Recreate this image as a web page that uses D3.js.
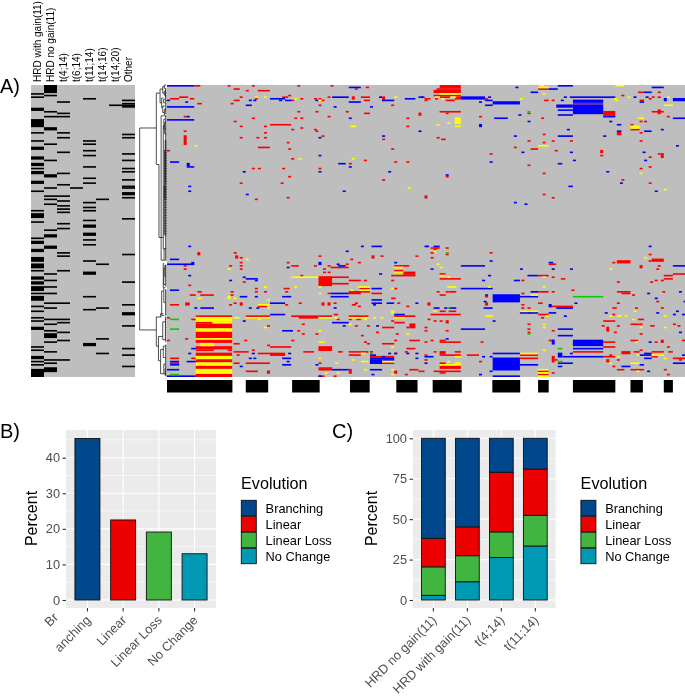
<!DOCTYPE html>
<html><head><meta charset="utf-8">
<script src="https://cdn.jsdelivr.net/npm/d3@7"></script>
<style>html,body{margin:0;padding:0;background:#fff}svg{display:block}text{font-family:"Liberation Sans",Arial,sans-serif}</style>
</head><body><svg id="c" width="685" height="696"></svg>
<script>
// ---------- Panel A: annotation columns (row, span) ----------
const annotNames=["HRD with gain(11)","HRD no gain(11)","t(4;14)","t(6;14)","t(11;14)","t(14;16)","t(14;20)","Other"];
const annotHRDgain=[[5],[7],[14,2],[21,5],[29],[34],[38,2],[44,2],[48,2],[51],[53,2],[59,2],[65],[77],[79,3],[84],[94],[96,2],[101,2],[106,3],[110,3],[114],[118,2],[121,2],[124,3],[128],[130,3],[136],[139],[143],[145],[149,2],[161],[163],[167,2],[170],[172],[175,5]];
const annotHRDno=[[0,5],[6],[16],[19],[26,2],[36],[46],[55,2],[63],[68],[70],[73],[89],[92,2],[99,2],[116],[120],[124],[128],[134],[137],[144],[147],[151],[153,3],[158],[164],[169],[171],[174,3]];
const annotT414=[[10],[17],[19],[29],[32],[41],[54],[61],[68],[71],[74],[76],[78],[85],[88],[103],[105],[114],[134],[144],[146],[152],[157],[169]];
const annotT614=[[63]];
const annotT1114=[[8],[34],[36],[40],[43],[50],[57],[60],[72],[75],[77],[83],[86,2],[91,2],[95],[98],[108],[115,2],[130],[138],[159,2]];
const annotT1416=[[70],[110],[137],[156],[165]];
const annotT1420=[[12]];
const annotOther=[[9],[11],[12],[13],[30],[32],[42],[46],[51],[53],[58],[62],[63],[66,2],[69],[82],[104],[121],[135],[140,2],[148],[162],[166],[173]];
const annotCols=[annotHRDgain,annotHRDno,annotT414,annotT614,annotT1114,annotT1416,annotT1420,annotOther];

// ---------- Panel A: main heatmap cells (row, firstCol, endCol, rowSpan) ----------
const redCells=[[0,9,11],[0,20,21],[0,28,29],[0,43,44],[0,54,55],[1,65.6,66.7],[2,22,24],[2,62,63],[3,26,27],[3,30,34],[6,40,41],[7,4,7],[7,24,25],[7,38,39],[7,39,40],[7,53,54],[7,61,62,2],[7,64,67],[7,71,72,3],[8,1,4],[8,7.5,9],[8,29,30],[8,44,45],[8,48.5,49.5],[8,50,51],[8,85,86],[9,22,24],[9,41,42],[9,51,52],[9,65,67],[11,10,11.5],[11,21,22],[12,50,51],[12,74,75],[16,43,44],[16,49,50],[16,59,60],[17,65,67],[17,83,84],[19,5.5,6.5],[19,53,54],[20,28,29],[20,42,43],[20,44,45],[20,79,80],[22,22,23],[24,34,41],[25,24,25],[25,32,33],[25,79,80],[26,44,45],[27,41,42],[27,48.5,49.5],[28,5.5,6.5],[28,49,50],[29,32,33],[31,51,52],[32,24,25],[32,29.5,30.5],[32,32,33],[33,71,72],[31,5.5,6.5,6],[35,39.5,40.5],[38,30,34],[39,40,41],[39,74,75],[40,0,1],[45,41,42],[46,65,66],[47,75,76],[47,79,80],[48,60,61],[51,28,29],[51,30,31],[51,38,39],[51,50,51],[56,40,41],[58,71,72],[60,24,25],[60,37.5,38.5],[69,85,86],[69,39.5,40.5],[70,29,30],
[0,90,97,2],[2,89,97],[3,88,97,2],[2,122.5,126],[4,155.5,157.5],[4,162,163],[6,88,97],[6,150,151],[7,90,93.5],[7,95,97],[7,160,161],[7,162,163],[8,88.5,89.5],[8,95,97],[8,86,87],[8,105,106],[8,159,160],[9,92,95],[9,85,86],[9,124.5,126],[9,127,128],[9,156,157.5],[11,134,144],[16,144,148,3],[16,90,97],[16,160,164],[15,162,163,3],[17,92,93],[17,119,120],[18,83,84],[19,103,104],[19,165,166],[20,123.5,124.5],[22,157.5,158.5],[22,156,157],[24,153,154],[27,153,156],[29,148.5,150,2],[29,156,157],[30,124,125],[32,89,90],[33,90.5,92],[34,119,120],[34,127,128],[34,133,134],[34,156,157],[35,124,125],[38,114.5,115.5],[39,120,122.5],[40,128,129],[40,143,144,2],[42,106.5,107.5],[42,162,163],[42,163,164,3],[43,143,144],[44,159,160],[49,119,120],[50,159,160],[51,156,157],[54,124,125],[56,92,93],[58,150,151],[60,159,160],[67,124,125],[68,85,86],[69,127,128],
[103,10,11,2],[103,22,23],[105,22.5,23.5,2],[106,24,25],[105,50,51],[105,67.5,68.5,2],[105,70.5,71.5],[105,82,83],[107,60.5,61.5],[109,24,25],[109,39.5,40.5],[109,63,64],[110,59,60],[111,5.5,6.5],[111,20.5,21.5],[111,24,25],[111,41,43.5],[111,48.5,49.5],[111,53,54],[111,75,80],[112,54,60],[113,5.5,6.5],[113,24,25],[113,51.5,52.5],[114,75,78],[115,51.5,52.5],[115,53,54],[115,78,82,2],[117,75,82],[117,44,45],[117,74,75],[118,50,60],[118,50,54.5,6],[120,60,64],[120,65,66],[120,74,75],[121,25,26],[122,54.5,60],[123,7,8],[125,29,30],[125,38.5,39.5],[125,39.5,40.5],[125,75,76],[125,63.5,67],[127,63.5,67],[127,10,11.5],[127,21,22],[127,29,30],[127,32,33],[127,39,40],[127,60,64,2],[128,53,54],[128,67.5,71],[129,7.5,9.5],[129,11,15.5],[129,21,22],[131,74,75.5],[134,22,23],[134,24,25,2],[134,43.5,44.5],[134,51,52,2],[134,53,54,2],[134,55,56],[134,6,7.5,2],[134,76,77],[135,1,4],[135,20.5,21.5],[135,39,40],[135,61,62.5],[136,30,33],[136,63,64],[136,79,80],[134,62,63],
[142,9.5,21.5],[146,9.5,15],[147,9.5,21.5,3],[152,9.5,21.5,4],[157,9.5,21.5,2],[161,9.5,21.5,2],[163,9.5,15.5],[163,20,21.5],[165,9.5,21.5,2],[169,9.5,21.5,2],[173,9.5,21.5,2],[178,9.5,21.5,2],
[144,8,9.5],[143,0,1],[157,0,1],[156,6,7],[168,1,4],[171,1,4],[168,8,9.5],[142,26,34],[148,33,34],[159,22,24],[157,25.5,26.5],[160,33,34],[161,34,41],[164,22,27],[163,28,29],[166,23,24],[165,30,34],[165,34,39,2],[171,22,24],[171,26,34],[176,26,30],[176,33,34,2],[142,41,50],[143,43.5,50],[142,50,54.5],[141,55,56.5],[144,56,57],[142,60,66.5],[144,62.5,64],[144,60,61],[145,74,75],[142,75,82],[146,75,78.5],[147,80,82,3],[149,79,80],[149,71,75],[148,62,63],[148,66,67],[152,69,70],[151,43,44],[153,44.5,45.5],[153,49,50],[147,44.5,45.5],[157,41,42],[154,64,65],[158,65,66],[159,66,67],[157,75,76],[159,71,75],[153,75.5,76.5],[162,79,82],[157,80,83.5],[161,50,54.5,3],[164,45,48.5],[164,56.5,58],[164,60,66.5],[166,60,64],[164,67,68],[164,78.5,79.5],[165,75,76],[171,50,51],[174,50,54.5],[175,50,54.5],[175,60,61,3],[175,80,83],[176,83,84],[176,75,76,2],[178,78.5,79.5],[179,50,52],[179,55,56],[167,67,75],[171,71,75],
[100,87,90],[100,92,93],[101,88,89],[103,87,88],[103,106.5,107.5],[104,92,93],[104,159,160],[106,87,88],[107,160,164,2],[108,159,160],[108,148.5,153,2],[109,147,148],[110,126,128.5],[111,156,157,2],[111,162,163],[113,161.5,162.5],[116,90,92],[117,122.5,126],[118,127,128],[119,130,131.5],[116,167,171],[117,164,167],[119,164,167],[119,90,97],[120,117,118],[120,161,162],[120,163,164],[121,159.5,160.5],[121,148.5,149.5],[126,133.5,134.5],[127,89,90],[127,92,93],[127,93,95.5],[127,122.5,126],[127,127,128],[127,148.5,153],[128,150,153],[127,163.5,164.5],[128,117,118],[129,153.5,154.5],[129,90,92],[130,105,106],[133,161.5,162.5],[134,122.5,124],[134,105,106,2],[134,148.5,149.5],[134,86,87,2],[135,117,118],[136,126,134],[137,117,118],[137,119,120],[137,147,148.5],[137,154.5,155.5],[137,163,164],[139,90,92],[139,93,95.5],[140,119,120.5],[141,87,97],[141,122.5,126],[141,147,148],[144,155.5,157.5],[144,86,87],[145,144,148],[145,88,89],[145,90,91],[145,92,93,2],[143,123.5,124.5],[147,153,156],[147,156,157],[147,119,120],[147,167,168],[148,143.5,144.5],[148,148.5,149.5],[148,159.5,161],[148,168.5,169.5],[149,85,86],[149,145,146,3],[150,119,120],[151,85,86],[151,92,93],[151,127,128],[152,147.5,148.5],[152,119,120],[153,156,157],[157,90,92],[157,87,88],[157,126,127.5],[158,90,97],[158,103.5,104.5],[158,85,86],[158,144,148],[157,153,155.5],[157,163,164,2],[157,170,171],[158,161,162],[161,144,148],[161,165,166],[163,156,157],[164,88,89],[164,90,92,2],[164,95,97],[164,134,144],[164,150,153,2],[164,154,156],[166,90,97],[166,99,103],[166,85,86],[164,160,164],[164,165.5,167],[166,146,147],[166,116.5,122.5],[168,116.5,122.5],[167,144,148],[168,167,171],[167,160,162],[167,127,128,4],[169,128,129],[169,145,146,2],[169,148.5,149.5],[169,85,86],[169,169,170],[170,103,104],[171,90,92],[173,147,148],[175,148.5,151],[175,153,157.5],[175,164,165],[176,84,85],[176,88,97],[177,90,92],[177,127,128],[178,165,166],[173,90,97,2],[176,122.5,126],[178,122.5,126]];
const blueCells=[[0,0,9],[1,60,64],[7,54.5,60],[7,70,71],[7,83,84.5],[8,34,39],[8,78.5,82],[9,0,1],[9,27,28],[9,28.5,29.5],[9,37,38],[9,39,40],[9,40,41],[9,49,50],[9,71,75],[10,6,7],[10,60,64],[12,26,28],[13,0,9],[13,55,56],[13,67,68],[19,6.5,7.5],[20,60,61],[21,0,9],[28,83,84],[31,71,72],[32,50,51],[43,50,51],[47,1,4],[48,56.5,59],[48,6.5,7.5,2],[50,6.5,9],[50,60,61],[53,25,26],[53,50,51],[53,73,74],[62,7,8],[65,7,8],[65,58,59],[67,26,27],
[1,115,116],[0,129,134],[1,160,164],[2,126,129],[4,120,122.5],[4,157.5,160],[7,84,85],[7,97,105,2],[7,106,107],[7,131,132],[7,133,148],[7,154,155],[7,158,159],[8,164,165,2],[8,167,171,2],[9,105,107.5],[9,130,131],[9,134,144,2],[10,156,157.5],[10,103,104],[10,107.5,116.5,2],[12,134,144,6],[12,105,107.5],[12,128.5,134,2],[15,129,134],[18,116,117],[18,129,134],[20,108,112.5],[20,167,171],[22,119,120],[22,146,147],[24,103,104,2],[24,148.5,150],[19,144,148],[27,132,133],[27,163,164],[28,148.5,150],[28,157.5,160],[31,114.5,115.5],[31,129,134],[31,144,145],[37,168,169],[41,117,118],[41,133,134],[41,157,158],[46,134,135],[46,157.5,158.5],[47,106.5,107.5],[48,129,130.5],[53,145,146],[55,92,93],[60,149.5,150.5],[62,132.5,134],[65,161,162],[72,114.5,115.5],[73,118,119],
[99,7,8],[99,64,65],[99,67.5,71],[99,85.5,86.5],[102,59,60],[107,1,4],[109,75,76],[109,8,9,2],[110,0,9],[109,50,51,2],[112,39.5,40.5],[110,56,57],[111,56.5,59],[116,70,71],[117,7,8],[118,25,26],[119,26,30],[120,29,30],[120,20.5,21.5],[125,67.5,71],[126,1,4],[128,54,60],[130,54,60],[130,24,26.5],[130,29,30],[130,38,41],[132,67.5,71],[134,67.5,71],[134,34,39],[135,68,69],[134,72.5,75],[134,82,83],[137,9,10],[137,11,15.5],[137,27,28],[137,29.5,30.5],[137,55,56],[141,34,39],[141,75,78.5],[146,54.5,60],[145,25,26],[148,58,59],[148,69,70],[151,38,41],[151,40.6,41.6],[162,8,9.5],[165,7,8],[165,28,29],[168,27,28],[168,28.5,29.5],[168,38,41],[170,1,4],[172,1,4],[170,6.5,9.5],[170,39.5,40.5],[172,38,41],[165,40,41],[175,0,4],[179,0,9.5],[172,49,50],[175,54.5,60],[175,67,71],[178,67.5,68.5],[179,50,51],[173,24,25],[168,67,75],[169,67,71,3],[169,71,75],[166,67,68],[166,68,69],[165,73,74],[167,71,72],[165,75,76],[165,79,80],[165,82,83],[168,82,83],
[99,85,86],[99,88,90],[99,159,160],[108,106.5,107.5],[109,126,127.5],[111,97,105],[113,116.5,117.5],[113,127,128],[113,133,134],[111,167,171],[113,87,88],[117,106,107],[120,114.5,116.5],[117,119,122.5],[120,104,105],[125,97,107.5],[127,120,122.5],[127,169,170],[128,158.5,159.5],[129,105,106],[129,107.5,116.5,5],[130,116.5,122.5],[133,104.5,105.5],[131,161,162],[133,170.5,171],[135,126,127,2],[137,128.5,134],[134,134.5,135.5],[137,88,90],[137,91.5,92.5],[137,93,95.5],[137,104.5,107.5],[140,116.5,122.5],[140,126,128.5],[139,168,169],[140,144.5,145.5],[140,161.5,162.5],[141,167,168],[141,170,171],[142,131,132],[145,107.5,108.5],[150,97,105],[150,129,134],[152,169,170],[154,129,134],[156,92,93],[157,127,128,3],[157,134,144,4],[158,159,160],[162,134,144],[165,107.5,116.5],[165,129,130.5,3],[167,130.5,144],[165,133,134],[167,85,88],[167,106.5,107.5],[168,107.5,116.5,8],[172,116.5,122.5],[166,156,160],[165,157.5,160],[168,157.5,160],[171,167,171],[166,170,171],[171,85,86],[172,156,157.5],[173,150,153],[176,106.5,107.5],[176,158.5,159.5],[178,103,104],[167,104,105],[173,129,130.5],[171,129,134],[179,107.5,116.5]];
const yellowCells=[[7,29,30],[7,32,33],[7,75,76],[8,42,43],[9,50,51],[25,60.5,62.5],[37,9,10],[45,43.5,44.5],[45,61,62],[63,79.5,80.5],
[5,90,97],[7,88.5,90],[7,93.5,95.5],[8,90.5,91.5],[0,123,124.5],[0,148,151],[1,122.5,126],[5,124,125],[7,152,153],[8,116.5,117.5],[8,147.5,148.5],[9,148,149],[12,164,167],[20,95,97,4],[20,155.5,157.5],[23,92.5,93.5],[24,89,90],[25,95,97],[25,153,156,2],[7,165,166],[37,122.5,126],[54,156,157],[64,164,165],
[107,26,27],[113,20,21],[115,75,78],[112,75,78],[118,41,50],[124,32,33],[124,42,43],[124,50,51],[124,63,67],[126,60.5,61.5],[125,74,75],[126,63.5,67],[128,50,51],[130,20,21,2],[131,10,11.5],[131,22,23],[132,33,34],[135,30,34],[137,33,34],[139,74,75,2],[143,22,24],[143,50,54.5],[143,55,56.5],[143,60,66.5],[143,68,69],[143,70.5,71.5],[143,75,78.5],[144,65,66],[144,30,31],[149,32,33],[147,60,61],[151,50,51],[158,50,52],[153,79,80],[161,74,75],[168,50,51],[169,61,62],[170,64,66.5],[171,55.5,56.5],[177,52,53],[177,56,57],[175,65,66],[175,74,75],[178,74,75],[165,64,65.5],[170,71,75],
[143,9.5,21.5,3],[146,15,21.5],[150,9.5,21.5,2],[156,9.5,21.5],[159,11,15.5,2],[167,9.5,21.5,2],[171,9.5,21.5,2],[175,9.5,21.5,3],
[143,26,34],[102,88,89],[106,157.5,158.5],[110,89,90],[112,90,91],[113,146,147],[117,90,92],[118,92.5,93.5],[118,124,125],[124,92.5,95.5],[124,106,107],[124,124,125],[129,120,122.5],[139,116.5,122.5],[139,88,89],[139,154,155],[142,105,107.5],[142,125,126],[142,146,147],[142,148.5,150],[142,151,152],[142,164,165],[144,153.5,154.5],[147,124,125],[149,124,125],[149,164,165],[149,156,157],[158,154.5,155.5],[163,124,125],[165,116.5,122.5],[166,160,164],[166,155,156],[167,95,97],[167,148.5,149.5],[168,164,165],[170,92.5,93.5],[171,95,97],[171,146,147],[171,153,156],[172,90,97],[176,155,156],[175,122.5,126],[177,122.5,126],[179,122.5,126]];
const greenCells=[[16,119,120],[144,1,4],[150,1,4],[178,1,4],[165,67,68],[103,92,93],[130,134,144],[137,92.5,93.5],[153,119,120],[162,129,130.5],[170,129,130.5]];
// cluster bar ranges under the heatmap (firstCol, endCol)
const clusterBars=[[0,21.6],[26,33.4],[41.3,50.4],[60.4,66.9],[75.7,82.7],[87.7,97.3],[107.4,116.6],[122.5,126],[134,148],[153,157.1],[164,167]];

// ---------- Panel A: dendrogram merges (height, rowA, heightA, rowB, heightB) ----------
const dendroMerges=[[100,26.5,38,151,38],[38,5,24,49,28],[24,2.5,14,11,18],[14,1,8,5,9],[8,0,2,2,4],[9,4,3,6,5],[5,5,0,7,1],[18,8,11,14,14],[11,9,5,11,6],[14,13,6,17,8],[8,15,2,19,3],[28,49,28,94,12],[20,19,10,108,9],[10,21,5,27,4],[12,25,7,101,5],[7,23,2,30,4],
[38,143,22,161,30],[22,141,12,143,18],[12,110,9,125,10],[9,101,4,108,5],[10,113,6,123,5],[6,111,2,118,3],[18,127,10,142,8],[10,125,5,134,4],[30,155,14,170,22],[14,146,6,157,5],[22,163,12,178,10],[12,161,5,168,5],[10,172,5,178,4],[5,175,2,179,1]];
// comb-like runs of leaves (height, firstRow, lastRow)
const dendroCombs=[[4,2,9],[3,9,18],[3,19,30],[3,30,100],[5,34,60],[7,40,70],[9,62,92],[3,100,108],[3,111,124],[3,126,142],[4,143,158],[3,160,179]];

// ---------- Panels B, C ----------
const evolutionNames=["Branching","Linear","Linear Loss","No Change"];
const evolutionColors=["#00468B","#ED0000","#42B540","#0099B4"];
const overallPercent=[45.4,22.5,19.1,13];
const subtypeNames=["HRD no gain(11)","HRD with gain(11)","t(4;14)","t(11;14)"];
const subBranching=[61.9,54.8,21,19];
const subLinear=[17.6,17.8,36.9,28.6];
const subLinearLoss=[17.6,16.1,15.8,19];
const subNoChange=[2.9,11.3,26.3,33.4];

const svg=d3.select("#c");
const defs=svg.append("defs");
defs.append("filter").attr("id","soft").attr("x","-2%").attr("y","-2%").attr("width","104%").attr("height","104%")
  .append("feGaussianBlur").attr("stdDeviation",0.38);
const root=svg.append("g").attr("filter","url(#soft)");
root.append("rect").attr("width",685).attr("height",696).attr("fill","#fff");

function label(t,x,y){root.append("text").attr("x",x).attr("y",y).attr("font-size",20).attr("fill","#000").text(t);}
label("A)",0,93);label("B)",0,438);label("C)",332,438);

// --- annotation
const NROW=180;
const yRow=d3.scaleLinear().domain([0,NROW]).range([85,377]);
const xAnnot=d3.scaleBand().domain(annotNames).range([31,135]);
const gA=root.append("g");
gA.append("rect").attr("x",31).attr("y",yRow(0)).attr("width",104).attr("height",yRow(NROW)-yRow(0)).attr("fill","#BEBEBE");
annotCols.forEach((col,i)=>{
  gA.selectAll(null).data(col).join("rect")
    .attr("x",xAnnot(annotNames[i])).attr("width",xAnnot.bandwidth())
    .attr("y",d=>yRow(d[0])).attr("height",d=>yRow(d[0]+(d[1]||1))-yRow(d[0])).attr("fill","#000");
});
annotNames.forEach(n=>{
  gA.append("text").attr("transform",`translate(${xAnnot(n)+xAnnot.bandwidth()/2+3},82) rotate(-90)`)
    .attr("font-size",10).attr("fill","#000").text(n);
});

// --- heatmap
const NCOL=171;
const xCol=d3.scaleLinear().domain([0,NCOL]).range([167,685]);
const gH=root.append("g");
gH.append("rect").attr("x",xCol(0)).attr("y",yRow(0)).attr("width",xCol(NCOL)-xCol(0)).attr("height",yRow(NROW)-yRow(0)).attr("fill","#BEBEBE");
[[redCells,"#FF0000"],[blueCells,"#0000FF"],[yellowCells,"#FFFF00"],[greenCells,"#00D000"]].forEach(([cells,color])=>{
  gH.selectAll(null).data(cells).join("rect")
    .attr("x",d=>xCol(d[1])).attr("width",d=>xCol(d[2])-xCol(d[1]))
    .attr("y",d=>yRow(d[0])).attr("height",d=>yRow(d[0]+(d[3]||1))-yRow(d[0])).attr("fill",color);
});
gH.selectAll(null).data(clusterBars).join("rect")
  .attr("x",d=>xCol(d[0])).attr("width",d=>xCol(d[1])-xCol(d[0])).attr("y",380).attr("height",12.5).attr("fill","#000");

// --- dendrogram
const xH=d3.scaleLinear().domain([0,100]).range([166.5,139.7]);
const gD=root.append("g").attr("fill","none").attr("stroke","#222").attr("stroke-width",0.8);
gD.selectAll(null).data(dendroMerges).join("path").attr("d",d=>{
  const [h,a,ha,b,hb]=d;
  return `M${xH(ha)},${yRow(a)}H${xH(h)}V${yRow(b)}H${xH(hb)}`;
});
dendroCombs.forEach(([h,a,b])=>{
  gD.append("path").attr("d",`M${xH(h)},${yRow(a)}V${yRow(b)}`);
  gD.selectAll(null).data(d3.range(a,b+1)).join("path").attr("d",r=>`M${xH(h)},${yRow(r+.5)}H${xH(0)}`);
});

// --- ggplot-like panel
function panel(o){
  const g=root.append("g");
  const x=d3.scaleBand().domain(o.cats).range([o.x0,o.x1]).paddingInner(0.3).paddingOuter(0.25);
  const y=d3.scaleLinear().domain([0,o.max]).range([o.zero,o.top]);
  g.append("rect").attr("x",o.x0).attr("y",430).attr("width",o.x1-o.x0).attr("height",178).attr("fill","#EBEBEB");
  const clipY=v=>y(v);
  o.minor.forEach(v=>g.append("line").attr("x1",o.x0).attr("x2",o.x1).attr("y1",clipY(v)).attr("y2",clipY(v)).attr("stroke","#fff").attr("stroke-width",0.55));
  o.ticks.forEach(v=>g.append("line").attr("x1",o.x0).attr("x2",o.x1).attr("y1",clipY(v)).attr("y2",clipY(v)).attr("stroke","#fff").attr("stroke-width",1.1));
  o.cats.forEach(c=>{const cx=x(c)+x.bandwidth()/2;g.append("line").attr("x1",cx).attr("x2",cx).attr("y1",430).attr("y2",608).attr("stroke","#fff").attr("stroke-width",1.1);});
  o.draw(g,x,y);
  const ya=d3.axisLeft(y).tickValues(o.ticks).tickSize(3.5).tickPadding(2.5);
  const gy=g.append("g").attr("transform",`translate(${o.x0},0)`).call(ya);
  gy.select(".domain").remove();
  gy.selectAll("line").attr("stroke","#333").attr("stroke-width",1.1);
  gy.selectAll("text").attr("font-size",12.8).attr("fill","#4D4D4D").attr("font-family",'"Liberation Sans"');
  const xa=d3.axisBottom(x).tickSize(3.5).tickFormat("");
  const gx=g.append("g").attr("transform","translate(0,608)").call(xa);
  gx.select(".domain").remove();
  gx.selectAll("line").attr("stroke","#333").attr("stroke-width",1.1);
  o.cats.forEach(c=>{
    const cx=x(c)+x.bandwidth()/2;
    const t=g.append("text").attr("transform",`translate(${cx+4},621) rotate(-45)`).attr("text-anchor","end").attr("font-size",12.8).attr("fill","#4D4D4D");
    if(c==="Branching"){
      t.append("tspan").attr("x",-21).attr("y",-25).text("Br");
      t.append("tspan").attr("x",0).attr("y",0).text("anching");
    } else t.text(c);
  });
  g.append("text").attr("transform",`translate(${o.titleX},518.5) rotate(-90)`).attr("text-anchor","middle").attr("font-size",16).attr("fill","#000").text("Percent");
  // legend
  g.append("text").attr("x",o.legX).attr("y",489).attr("font-size",16.2).attr("fill","#000").text("Evolution");
  const yL=d3.scaleBand().domain(evolutionNames).range([500,564]);
  evolutionNames.forEach((n,i)=>{
    g.append("rect").attr("x",o.legX+.3).attr("y",yL(n)+.3).attr("width",15).attr("height",15.4).attr("fill",evolutionColors[i]).attr("stroke","#111").attr("stroke-width",0.9);
    g.append("text").attr("x",o.legX+24.6).attr("y",yL(n)+8).attr("dy","0.36em").attr("font-size",12.8).attr("fill","#000").text(n);
  });
}
panel({cats:evolutionNames,x0:66,x1:216,zero:600,top:600-45.4*3.558,max:45.4,ticks:[0,10,20,30,40],minor:[5,15,25,35,45],titleX:37,legX:241,
  draw(g,x,y){
    g.selectAll(null).data(overallPercent).join("rect")
      .attr("x",(d,i)=>x(evolutionNames[i])).attr("width",x.bandwidth())
      .attr("y",d=>y(d)).attr("height",d=>y(0)-y(d))
      .attr("fill",(d,i)=>evolutionColors[i]).attr("stroke","#111").attr("stroke-width",0.9);
  }});
panel({cats:subtypeNames,x0:413,x1:555.7,zero:600,top:438.3,max:100,ticks:[0,25,50,75,100],minor:[12.5,37.5,62.5,87.5],titleX:376.7,legX:580.6,
  draw(g,x,y){
    const rows=subtypeNames.map((s,i)=>({s,"No Change":subNoChange[i],"Linear Loss":subLinearLoss[i],"Linear":subLinear[i],"Branching":subBranching[i]}));
    const st=d3.stack().keys(["No Change","Linear Loss","Linear","Branching"])(rows);
    st.forEach(layer=>{
      const col=evolutionColors[evolutionNames.indexOf(layer.key)];
      g.selectAll(null).data(layer).join("rect")
        .attr("x",d=>x(d.data.s)).attr("width",x.bandwidth())
        .attr("y",d=>y(d[1])).attr("height",d=>y(d[0])-y(d[1]))
        .attr("fill",col).attr("stroke","#111").attr("stroke-width",0.9);
    });
  }});
</script></body></html>
